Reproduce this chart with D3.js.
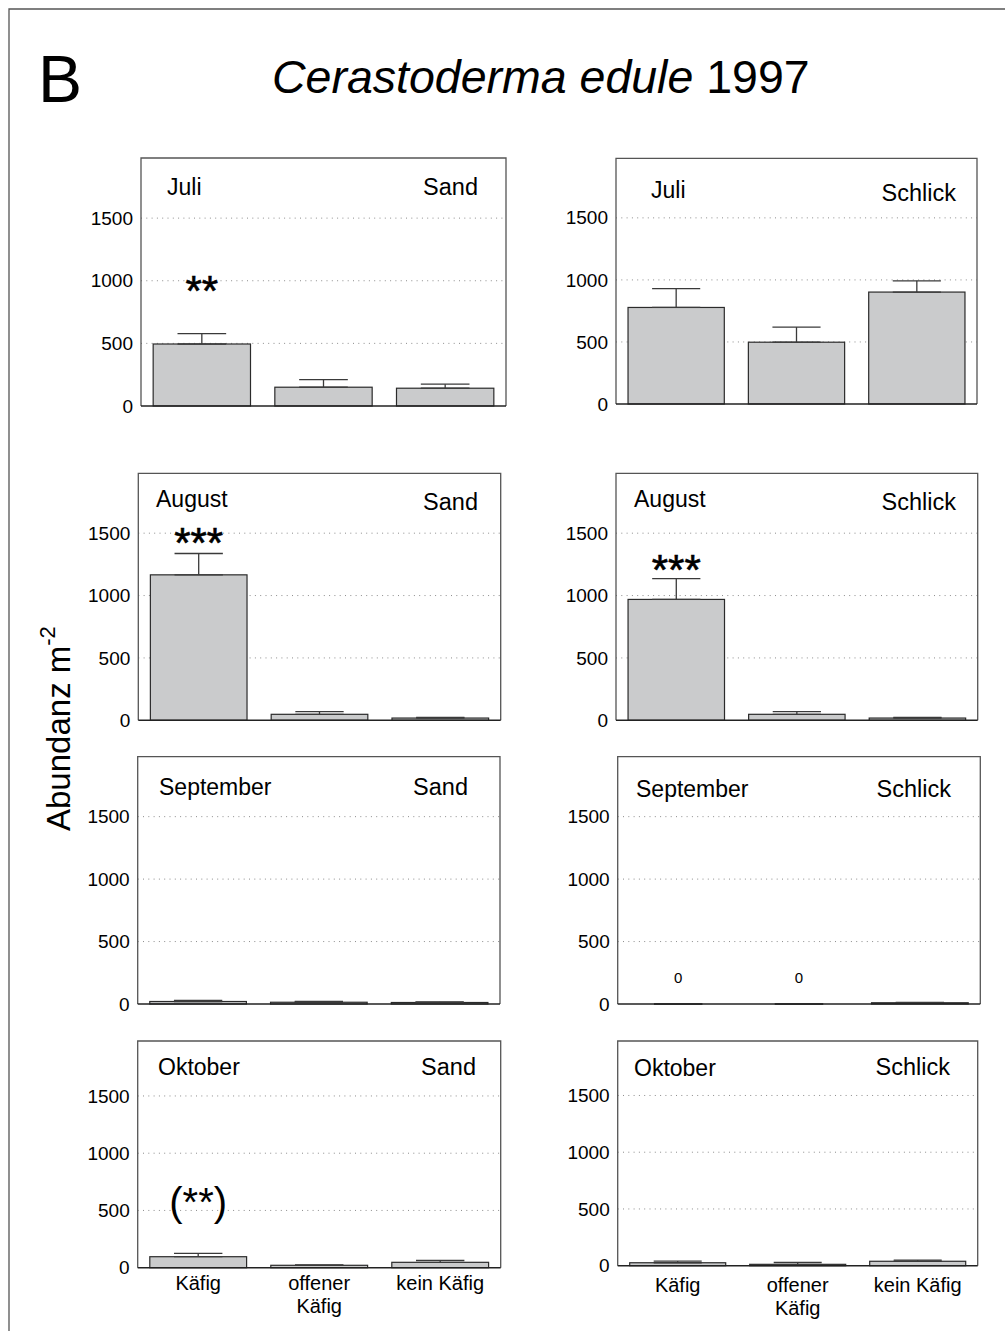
<!DOCTYPE html>
<html>
<head>
<meta charset="utf-8">
<script src="https://cdn.jsdelivr.net/npm/d3@7"></script>
<style>
  body { margin: 0; background: #fff; }
  svg { display: block; }
  text { font-family: "Liberation Sans", Arial, Helvetica, sans-serif; fill: #000; }
</style>
</head>
<body>
<svg id="chart" width="1005" height="1331"></svg>
<script>
// ---- data ----------------------------------------------------------------
const treatments = ["Käfig", "offener Käfig", "kein Käfig"];
const treatmentLines = [["Käfig"], ["offener", "Käfig"], ["kein Käfig"]];
const months = ["Juli", "Juli", "August", "August", "September", "September", "Oktober", "Oktober"];
const sites  = ["Sand", "Schlick", "Sand", "Schlick", "Sand", "Schlick", "Sand", "Schlick"];
// mean abundance per m² (Käfig, offener Käfig, kein Käfig)
const meanValues = [
  [495, 150, 142],
  [778, 498, 902],
  [1166, 48, 18],
  [969, 48, 18],
  [20, 14, 12],
  [0, 0, 10],
  [96, 21, 47],
  [26, 12, 39]
];
// upper standard error
const errorValues = [
  [83, 61, 32],
  [151, 122, 91],
  [171, 21, 6],
  [167, 21, 6],
  [8, 6, 5],
  [0, 0, 3],
  [29, 3, 17],
  [15, 18, 11]
];
// significance markers above the first bar
const significance = ["**", "", "***", "***", "", "", "(**)", ""];
// bars whose value is written above them
const valueLabelled = [
  [false, false, false], [false, false, false], [false, false, false], [false, false, false],
  [false, false, false], [true, true, false], [false, false, false], [false, false, false]
];
const yTicks = [0, 500, 1000, 1500];
const gridTicks = [500, 1000, 1500];
const yMax = 1980;

// ---- layout --------------------------------------------------------------
const panelFrames = [
  { x0: 141,   x1: 506,   top: 158,    bottom: 406,    month: [167, 195],   site: [478, 195],   sigGap: 53 },
  { x0: 616,   x1: 977,   top: 158.3,  bottom: 404,    month: [651, 197.5], site: [956, 200.5] },
  { x0: 138.3, x1: 500.7, top: 473.3,  bottom: 720.3,  month: [156, 506.5], site: [478, 510],   sigGap: 20 },
  { x0: 616,   x1: 977.7, top: 473.3,  bottom: 720.3,  month: [634, 506.5], site: [956, 510],   sigGap: 19 },
  { x0: 137.7, x1: 500,   top: 756.7,  bottom: 1004,   month: [159, 795],   site: [468, 795] },
  { x0: 617.7, x1: 980.3, top: 756.7,  bottom: 1004,   month: [636, 796.5], site: [951, 797] },
  { x0: 137.7, x1: 500.7, top: 1041,   bottom: 1267.7, month: [158, 1075],  site: [476, 1075],  sigGap: 60, xLab: 22 },
  { x0: 617.7, x1: 977.7, top: 1041,   bottom: 1265.7, month: [634, 1076],  site: [950, 1075],  xLab: 26 }
];

const W = 1005, H = 1331;
const svg = d3.select("#chart");

// outer figure border (top and left edges)
svg.append("path")
  .attr("d", `M9,${H}V9H${W}`)
  .attr("fill", "none")
  .attr("stroke", "#555")
  .attr("stroke-width", 1.3);

// panel letter and heading
svg.append("text")
  .attr("x", 38).attr("y", 102)
  .attr("font-size", 66)
  .text("B");

const heading = svg.append("text")
  .attr("x", 272).attr("y", 93)
  .attr("font-size", 46.5);
heading.append("tspan").attr("font-style", "italic").text("Cerastoderma edule");
heading.append("tspan").text(" 1997");

// shared y-axis title
const yTitle = svg.append("text")
  .attr("transform", "rotate(-90)")
  .attr("x", -831).attr("y", 70)
  .attr("font-size", 33);
yTitle.append("tspan").text("Abundanz m");
yTitle.append("tspan").attr("font-size", 22).attr("dy", -15).text("-2");

// ---- panels --------------------------------------------------------------
panelFrames.forEach((f, i) => {
  const g = svg.append("g").attr("class", "panel");

  const x = d3.scaleBand()
    .domain(treatments)
    .range([f.x0, f.x1])
    .paddingInner(0.2)
    .paddingOuter(0.1);
  const y = d3.scaleLinear().domain([0, yMax]).range([f.bottom, f.top]);

  // dotted gridlines
  g.selectAll("line.grid").data(gridTicks).join("line")
    .attr("class", "grid")
    .attr("x1", f.x0).attr("x2", f.x1)
    .attr("y1", d => y(d)).attr("y2", d => y(d))
    .attr("stroke", "#8c8c8c")
    .attr("stroke-width", 1)
    .attr("stroke-dasharray", "1,4.3");

  // frame (left, top, right)
  g.append("path")
    .attr("d", `M${f.x0},${y(0)}V${f.top}H${f.x1}V${y(0)}`)
    .attr("fill", "none")
    .attr("stroke", "#555")
    .attr("stroke-width", 1.3);

  // y axis labels
  const ax = g.append("g")
    .attr("transform", `translate(${f.x0},0)`)
    .call(d3.axisLeft(y).tickValues(yTicks).tickSize(0).tickPadding(8).tickFormat(d3.format("d")));
  ax.select(".domain").remove();
  ax.attr("font-family", null).attr("font-size", 19);
  ax.selectAll("text").attr("fill", "#000");

  const rows = treatments.map((t, j) => ({
    t, v: meanValues[i][j], e: errorValues[i][j], lab: valueLabelled[i][j]
  }));

  // bars
  g.selectAll("rect.bar").data(rows).join("rect")
    .attr("class", "bar")
    .attr("x", d => x(d.t))
    .attr("y", d => y(d.v))
    .attr("width", x.bandwidth())
    .attr("height", d => y(0) - y(d.v))
    .attr("fill", "#cacbcc")
    .attr("stroke", "#2b2b2b")
    .attr("stroke-width", 1.2);

  // error bars (upper half)
  const capW = x.bandwidth() / 2;
  const eb = g.selectAll("g.err").data(rows).join("g").attr("class", "err");
  eb.append("line")
    .attr("x1", d => x(d.t) + x.bandwidth() / 2)
    .attr("x2", d => x(d.t) + x.bandwidth() / 2)
    .attr("y1", d => y(d.v))
    .attr("y2", d => y(d.v + d.e))
    .attr("stroke", "#3a3a3a").attr("stroke-width", 1.3);
  eb.append("line")
    .attr("x1", d => x(d.t) + x.bandwidth() / 2 - capW / 2)
    .attr("x2", d => x(d.t) + x.bandwidth() / 2 + capW / 2)
    .attr("y1", d => y(d.v + d.e))
    .attr("y2", d => y(d.v + d.e))
    .attr("stroke", "#3a3a3a").attr("stroke-width", 1.3);
  eb.append("line")
    .attr("x1", d => x(d.t) + x.bandwidth() / 2 - capW / 2)
    .attr("x2", d => x(d.t) + x.bandwidth() / 2 + capW / 2)
    .attr("y1", d => y(d.v))
    .attr("y2", d => y(d.v))
    .attr("stroke", "#3a3a3a").attr("stroke-width", 1.3);

  // bottom axis line
  g.append("line")
    .attr("x1", f.x0).attr("x2", f.x1)
    .attr("y1", y(0)).attr("y2", y(0))
    .attr("stroke", "#222").attr("stroke-width", 1.5);

  // value labels above bars
  g.selectAll("text.val").data(rows.filter(d => d.lab)).join("text")
    .attr("class", "val")
    .attr("x", d => x(d.t) + x.bandwidth() / 2)
    .attr("y", d => y(d.v + d.e) - 21)
    .attr("text-anchor", "middle")
    .attr("font-size", 15)
    .text(d => d3.format("d")(d.v));

  // significance marker
  if (significance[i]) {
    const d = rows[0];
    const paren = significance[i].startsWith("(");
    const fs = paren ? 40 : 42;
    g.append("text")
      .attr("x", x(d.t) + x.bandwidth() / 2)
      .attr("y", y(d.v + d.e) - f.sigGap + 0.57 * fs)
      .attr("text-anchor", "middle")
      .attr("font-size", fs)
      .attr("stroke", paren ? "none" : "#000")
      .attr("stroke-width", paren ? 0 : 0.6)
      .text(significance[i]);
  }

  // month and site labels
  g.append("text")
    .attr("x", f.month[0]).attr("y", f.month[1])
    .attr("font-size", 23)
    .text(months[i]);
  g.append("text")
    .attr("x", f.site[0]).attr("y", f.site[1])
    .attr("text-anchor", "end")
    .attr("font-size", 23.5)
    .text(sites[i]);

  // treatment labels under the bottom row
  if (f.xLab) {
    const xl = g.selectAll("text.xlab").data(treatments).join("text")
      .attr("class", "xlab")
      .attr("text-anchor", "middle")
      .attr("font-size", 20)
      .attr("x", d => x(d) + x.bandwidth() / 2)
      .attr("y", y(0) + f.xLab);
    xl.selectAll("tspan").data((d, j) => treatmentLines[j]).join("tspan")
      .attr("x", function () { return this.parentNode.getAttribute("x"); })
      .attr("dy", (d, k) => k === 0 ? 0 : 23.5)
      .text(d => d);
  }
});
</script>
</body>
</html>
